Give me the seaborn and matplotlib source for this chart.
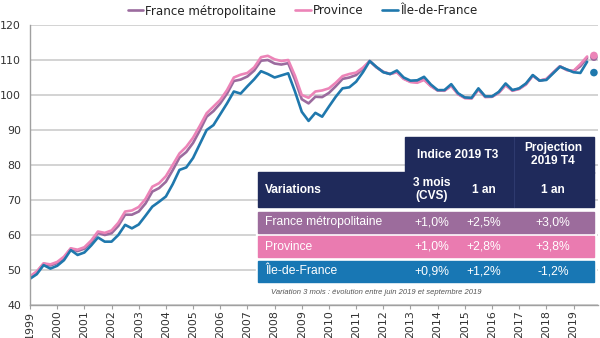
import matplotlib
matplotlib.use("Agg")
import numpy as np
import pandas as pd
import seaborn as sns
import matplotlib.pyplot as plt
from matplotlib.patches import Rectangle

# ---------------- data ----------------
years = list(range(1999, 2020))
year_ticks = [str(y) for y in years]

fm = [48.0, 49.4, 51.8, 51.3,
      52.0, 53.5, 56.1, 55.4,
      56.1, 58.0, 60.6, 60.0,
      60.5, 62.6, 65.8, 65.8,
      66.7, 69.0, 72.4, 73.4,
      75.2, 78.5, 82.1, 83.7,
      86.3, 89.9, 93.8, 95.4,
      97.6, 100.4, 104.0, 104.4,
      105.3, 107.0, 109.8, 110.0,
      109.0, 108.7, 109.1, 104.4,
      98.8, 97.6, 99.5, 99.4,
      100.6, 102.5, 104.6, 105.0,
      105.7, 107.5, 109.7, 107.9,
      106.6, 106.0, 106.6, 104.7,
      103.8, 103.7, 104.5, 102.6,
      101.3, 101.3, 102.7, 100.3,
      99.2, 99.1, 101.6, 99.5,
      99.5, 100.7, 102.9, 101.3,
      101.8, 103.1, 105.6, 104.1,
      104.5, 106.4, 108.2, 107.2,
      106.8, 108.2, 110.6]

province = [48.2, 49.6, 51.9, 51.6,
            52.3, 53.8, 56.2, 55.8,
            56.5, 58.4, 61.0, 60.6,
            61.3, 63.5, 66.7, 67.0,
            68.0, 70.3, 73.8, 74.8,
            76.8, 80.0, 83.3, 85.2,
            87.8, 91.2, 94.8, 96.7,
            98.6, 101.4, 105.0, 105.8,
            106.3, 107.9, 110.8, 111.2,
            110.2, 109.7, 110.0, 105.5,
            100.0, 99.2, 101.0, 101.3,
            101.9, 103.5, 105.4, 106.0,
            106.4, 107.8, 109.7, 107.9,
            106.6, 106.0, 106.5, 104.6,
            103.7, 103.5, 104.3, 102.5,
            101.3, 101.2, 102.6, 100.2,
            99.1, 99.0, 101.5, 99.4,
            99.5, 100.6, 102.8, 101.2,
            101.7, 103.0, 105.5, 104.1,
            104.6, 106.4, 108.2, 107.1,
            106.9, 108.8, 111.0]

idf = [47.5, 48.8, 51.4, 50.4,
       51.2, 52.8, 55.7, 54.3,
       55.0, 57.0, 59.3, 58.1,
       58.1, 60.0, 62.9, 61.9,
       63.0, 65.5, 68.1, 69.5,
       71.0, 74.5, 78.6, 79.3,
       82.0, 86.0, 90.0, 91.4,
       94.5, 97.6, 101.0, 100.4,
       102.5, 104.5, 106.8, 106.0,
       105.0, 105.6, 106.2, 101.0,
       95.2, 92.6, 94.9, 93.8,
       96.7, 99.5, 101.9, 102.2,
       103.8, 106.5, 109.7, 108.0,
       106.5, 106.0, 107.0, 105.0,
       104.1, 104.2, 105.2, 103.0,
       101.4, 101.4, 103.1, 100.5,
       99.3, 99.2, 101.9, 99.6,
       99.6, 100.9, 103.3, 101.4,
       101.9, 103.3, 105.7, 104.1,
       104.3, 106.2, 108.1, 107.3,
       106.5, 106.3, 109.5]

projection = {"France métropolitaine": 110.8, "Province": 111.3, "Île-de-France": 106.4}
proj_time = 2019.75

series_names = ["France métropolitaine", "Province", "Île-de-France"]
colors = ["#9b6b9e", "#ec84b8", "#1f78ad"]

# table content
tbl_rows = ["France métropolitaine", "Province", "Île-de-France"]
tbl_3m = ["+1,0%", "+1,0%", "+0,9%"]
tbl_1y = ["+2,5%", "+2,8%", "+1,2%"]
tbl_proj = ["+3,0%", "+3,8%", "-1,2%"]
row_colors = ["#9c6c9c", "#ea7bb0", "#1877b4"]
header_color = "#1f2a5b"
footnote = "Variation 3 mois : évolution entre juin 2019 et septembre 2019"

# ---------------- build frame ----------------
n = len(fm)
t = [1999 + i / 4 for i in range(n)]
df = pd.DataFrame({
    "t": t * 3,
    "v": fm + province + idf,
    "s": [series_names[0]] * n + [series_names[1]] * n + [series_names[2]] * n,
})
pdf = pd.DataFrame({"t": [proj_time] * 3,
                    "v": [projection[s] for s in series_names],
                    "s": series_names})

sns.set_style("white")
plt.rcParams["font.family"] = ["DejaVu Sans"]

fig = plt.figure(figsize=(6.0, 3.38), dpi=100)
W, H = 600, 338
ax = fig.add_axes([30 / W, 1 - 305 / H, (598 - 30) / W, (305 - 25) / H])

sns.lineplot(data=df, x="t", y="v", hue="s", hue_order=series_names,
             palette=colors, linewidth=1.9, ax=ax, legend=True)
sns.scatterplot(data=pdf, x="t", y="v", hue="s", hue_order=series_names,
                palette=colors, s=30, edgecolor="none", ax=ax, legend=False,
                zorder=5)

ax.set_xlim(1999, 2019.9)
ax.set_ylim(40, 120)
ax.set_yticks(range(40, 121, 10))
ax.set_xticks(years)
ax.set_xticklabels(year_ticks, rotation=90)
ax.set_xlabel("")
ax.set_ylabel("")
ax.grid(axis="y", color="#c8c8c8", linewidth=1.1)
ax.set_axisbelow(True)
for side in ["top", "right"]:
    ax.spines[side].set_visible(False)
for side in ["left", "bottom"]:
    ax.spines[side].set_color("#a0a0a0")
    ax.spines[side].set_linewidth(1.0)
ax.tick_params(axis="x", bottom=True, length=3, color="#a0a0a0",
               labelsize=7.9, labelcolor="#333333", pad=1)
ax.tick_params(axis="y", left=False, labelsize=7.9, labelcolor="#333333", pad=3)

handles, labels = ax.get_legend_handles_labels()
ax.get_legend().remove()
fig.legend(handles, labels, loc="center", bbox_to_anchor=(0.504, 1 - 11 / H),
           ncol=3, frameon=False, fontsize=8.6, handlelength=1.3,
           handletextpad=0.15, columnspacing=1.6, labelcolor="#222222")

# ---------------- table overlay (pixel coords) ----------------
ov = fig.add_axes([0, 0, 1, 1], zorder=10)
ov.set_xlim(0, W)
ov.set_ylim(H, 0)
ov.axis("off")
ov.patch.set_alpha(0)

tf = ["Liberation Sans", "DejaVu Sans"]
x0, x1 = 258, 594
xs_top = 405
xdiv = 514
# white backdrop behind rows
ov.add_patch(Rectangle((x0 - 2, 207), x1 - x0 + 4, 78, color="white", zorder=1))
# header blocks
ov.add_patch(Rectangle((xs_top, 137), x1 - xs_top, 36, color=header_color, zorder=2))
ov.add_patch(Rectangle((x0, 172), x1 - x0, 35, color=header_color, zorder=2))
ov.plot([xdiv, xdiv], [137, 207], color="#2e3a6e", lw=0.8, zorder=3)

hfs = 8.6
c3m, c1y, cpj = 432, 484, 553
ov.text(458, 155, "Indice 2019 T3", ha="center", va="center", color="white",
        fontsize=hfs, fontweight="bold", family=tf, zorder=4)
ov.text(cpj, 154.5, "Projection\n2019 T4", ha="center", va="center", color="white",
        fontsize=hfs, fontweight="bold", family=tf, linespacing=1.0, zorder=4)
ov.text(265, 190, "Variations", ha="left", va="center", color="white",
        fontsize=hfs, fontweight="bold", family=tf, zorder=4)
ov.text(c3m, 189.5, "3 mois\n(CVS)", ha="center", va="center", color="white",
        fontsize=hfs, fontweight="bold", family=tf, linespacing=1.0, zorder=4)
ov.text(c1y, 190, "1 an", ha="center", va="center", color="white",
        fontsize=hfs, fontweight="bold", family=tf, zorder=4)
ov.text(cpj, 190, "1 an", ha="center", va="center", color="white",
        fontsize=hfs, fontweight="bold", family=tf, zorder=4)

rfs = 8.7
row_tops = [212, 236, 261]
for i, top in enumerate(row_tops):
    ov.add_patch(Rectangle((x0, top), x1 - x0, 21, color=row_colors[i], zorder=2))
    yc = top + 10.5
    ov.text(265, yc, tbl_rows[i], ha="left", va="center", color="white",
            fontsize=rfs, family=tf, zorder=4)
    ov.text(c3m, yc, tbl_3m[i], ha="center", va="center", color="white",
            fontsize=rfs, family=tf, zorder=4)
    ov.text(c1y, yc, tbl_1y[i], ha="center", va="center", color="white",
            fontsize=rfs, family=tf, zorder=4)
    ov.text(cpj, yc, tbl_proj[i], ha="center", va="center", color="white",
            fontsize=rfs, family=tf, zorder=4)

ov.text(271, 292, footnote, ha="left", va="center", color="#555555",
        fontsize=5.5, style="italic", family=tf, zorder=4)

fig.savefig("out.png", dpi=100)
